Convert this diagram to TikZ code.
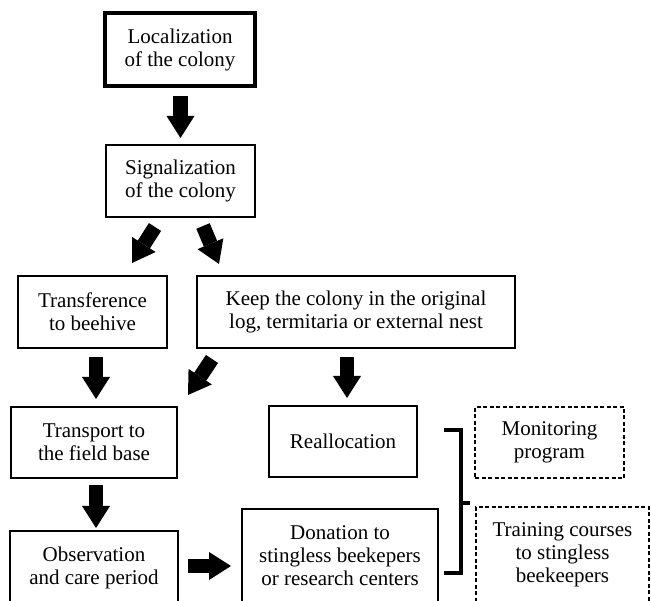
\documentclass[tikz,border=0pt]{standalone}
\usepackage{fontspec}
\setmainfont{Liberation Serif}
\usetikzlibrary{arrows.meta,calc}
\tikzset{
  box/.style={draw=black, line width=1.6pt, inner sep=0pt, align=center,
    font=\fontsize{21}{23}\selectfont},
  thickbox/.style={box, line width=3.2pt},
  dashbox/.style={box, dash pattern=on 4pt off 2.5pt},
  bigarrow/.style={line width=14.5pt, draw=black,
    -{Triangle[width=28pt,length=22pt,line width=0pt]}},
  bracketline/.style={line width=4pt, draw=black}
}
\begin{document}
\begin{tikzpicture}[x=1pt,y=-1pt]
\useasboundingbox (0,0) rectangle (651,601);
\clip (0,0) rectangle (651,601);
% boxes
\node[thickbox, minimum width=150pt, minimum height=73pt] (loc) at (180,49.5) {Localization\\of the colony};
\node[box, minimum width=149pt, minimum height=72pt] (sig) at (180.5,181) {Signalization\\of the colony};
\node[box, minimum width=149pt, minimum height=72pt] (trans) at (92.5,312) {Transference\\to beehive};
\node[box, minimum width=317.5pt, minimum height=72pt] (keep) at (356,312) {Keep the colony in the original\\log, termitaria or external nest};
\node[box, minimum width=166pt, minimum height=71pt] (transp) at (94,442.5) {Transport to\\the field base};
\node[box, minimum width=148.5pt, minimum height=71pt] (realloc) at (343,441.5) {Reallocation};
\node[dashbox, minimum width=149pt, minimum height=71.5pt] (monit) at (549.5,442.5) {Monitoring\\program};
\node[box, minimum width=168pt, minimum height=74pt] (obs) at (94,568) {Observation\\and care period};
\node[box, minimum width=195.5pt, minimum height=94pt] (don) at (340,556) {Donation to\\stingless beekepers\\or research centers};
\node[dashbox, minimum width=173pt, minimum height=96pt] (train) at (562.5,555) {Training courses\\to stingless\\beekeepers};
% arrow end points
\coordinate (a1s) at (180.5,96);  \coordinate (a1e) at (180.5,138);
\coordinate (a2s) at (155,227);   \coordinate (a2e) at (132,263);
\coordinate (a3s) at (203,226);   \coordinate (a3e) at (219,264);
\coordinate (a4s) at (96,357);    \coordinate (a4e) at (96,399);
\coordinate (a5s) at (212,359);   \coordinate (a5e) at (188,395);
\coordinate (a6s) at (347,357);   \coordinate (a6e) at (347,398);
\coordinate (a7s) at (96,485);    \coordinate (a7e) at (96,528);
\coordinate (a8s) at (187.5,566); \coordinate (a8e) at (231,566);
\draw[bigarrow] (a1s) -- (a1e);
\draw[bigarrow] (a2s) -- (a2e);
\draw[bigarrow] (a3s) -- (a3e);
\draw[bigarrow] (a4s) -- (a4e);
\draw[bigarrow] (a5s) -- (a5e);
\draw[bigarrow] (a6s) -- (a6e);
\draw[bigarrow] (a7s) -- (a7e);
\draw[bigarrow] (a8s) -- (a8e);
% bracket
\coordinate (bt) at (444,430);
\coordinate (bb) at (444,573);
\coordinate (bm) at (461,503);
\coordinate (bmr) at (470,503);
\draw[bracketline] (bt) -- (461,430) -- (461,573) -- (bb);
\draw[bracketline] (bm) -- (bmr);
\end{tikzpicture}
\end{document}
